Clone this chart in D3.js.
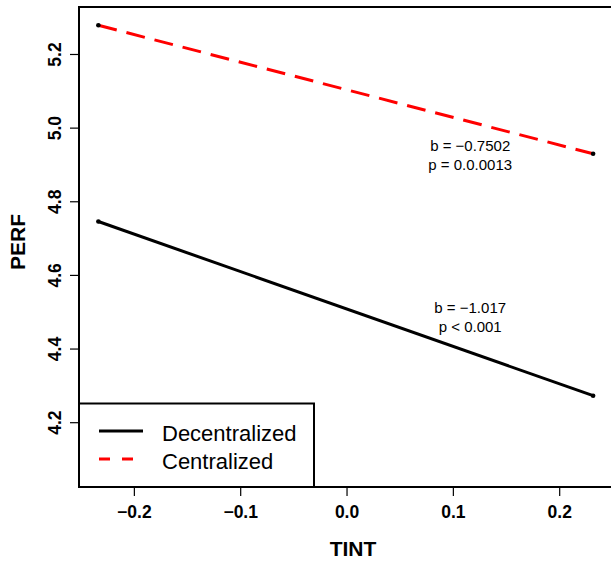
<!DOCTYPE html>
<html>
<head>
<meta charset="utf-8">
<script src="https://cdn.jsdelivr.net/npm/d3@7"></script>
<style>
  html, body { margin: 0; padding: 0; background: #fff; }
  svg { display: block; font-family: "Liberation Sans", Arial, Helvetica, sans-serif; }
</style>
</head>
<body>
<svg id="chart" width="611" height="562"></svg>
<script>
// Simple-slopes data: PERF predicted at low / high TINT for each structure
const tint = [-0.2334, 0.2319];
const decentralized = [4.745, 4.272];
const centralized = [5.278, 4.929];
const seriesNames = ["Decentralized", "Centralized"];
const xTicks = [-0.2, -0.1, 0.0, 0.1, 0.2];
const yTicks = [4.2, 4.4, 4.6, 4.8, 5.0, 5.2];
const notesCentralized = ["b = \u22120.7502", "p = 0.0.0013"];
const notesDecentralized = ["b = \u22121.017", "p < 0.001"];

const svg = d3.select("#chart");

const x = d3.scaleLinear().domain([-0.2516, 0.2506]).range([79, 613]);
const y = d3.scaleLinear().domain([4.024, 5.3276]).range([487, 7]);

const fmt = d => d3.format(".1f")(d).replace("-", "\u2212");

// Plot frame
svg.append("rect")
  .attr("x", x.range()[0]).attr("y", y.range()[1])
  .attr("width", x.range()[1] - x.range()[0])
  .attr("height", y.range()[0] - y.range()[1])
  .attr("fill", "none").attr("stroke", "#000").attr("stroke-width", 2);

// X axis
const xAxis = d3.axisBottom(x).tickValues(xTicks).tickSize(9).tickSizeOuter(0).tickPadding(10).tickFormat(fmt);
const gx = svg.append("g").attr("transform", `translate(0,${y.range()[0]})`).call(xAxis);
gx.select(".domain").remove();
gx.selectAll(".tick line").attr("stroke", "#000").attr("stroke-width", 1.2);
gx.selectAll(".tick text").attr("font-size", 17.5).attr("font-weight", "bold").attr("fill", "#000")
  .attr("font-family", "'Liberation Sans', Arial, sans-serif");

// Y axis (labels turned parallel to the axis)
const yAxis = d3.axisLeft(y).tickValues(yTicks).tickSize(9).tickSizeOuter(0).tickFormat(fmt);
const gy = svg.append("g").attr("transform", `translate(${x.range()[0]},0)`).call(yAxis);
gy.select(".domain").remove();
gy.selectAll(".tick line").attr("stroke", "#000").attr("stroke-width", 1.2);
gy.selectAll(".tick text")
  .attr("font-size", 17.5).attr("font-weight", "bold").attr("fill", "#000")
  .attr("font-family", "'Liberation Sans', Arial, sans-serif")
  .attr("x", null).attr("dy", null)
  .attr("text-anchor", "middle")
  .attr("transform", "translate(-24,0) rotate(-90)")
  .attr("dy", "0.36em");

// Axis titles
svg.append("text")
  .attr("x", 353).attr("y", 556)
  .attr("text-anchor", "middle")
  .attr("font-size", 21).attr("font-weight", "bold")
  .text("TINT");
svg.append("text")
  .attr("transform", "translate(25,242) rotate(-90)")
  .attr("text-anchor", "middle")
  .attr("font-size", 21).attr("font-weight", "bold")
  .text("PERF");

// Lines
const line = d3.line().x(d => x(d[0])).y(d => y(d[1]));
const series = [
  { name: seriesNames[0], values: decentralized, color: "#000", dash: null },
  { name: seriesNames[1], values: centralized, color: "#f00", dash: "19,10" }
];
series.forEach(s => {
  const pts = tint.map((t, i) => [t, s.values[i]]);
  svg.append("path")
    .attr("d", line(pts))
    .attr("fill", "none")
    .attr("stroke", s.color)
    .attr("stroke-width", 3)
    .attr("stroke-dasharray", s.dash);
  svg.selectAll(null).data(pts).enter().append("circle")
    .attr("cx", d => x(d[0])).attr("cy", d => y(d[1]))
    .attr("r", 2.3).attr("fill", "#000");
});

// Slope annotations
function note(lines, xv, yv) {
  lines.forEach((t, i) => {
    svg.append("text")
      .attr("x", x(xv)).attr("y", y(yv) + i * 18.5)
      .attr("text-anchor", "middle")
      .attr("font-size", 15)
      .text(t);
  });
}
note(notesCentralized, 0.1163, 4.9365);
note(notesDecentralized, 0.1163, 4.4955);

// Legend
const lg = svg.append("g");
lg.append("rect")
  .attr("x", 79).attr("y", 403.5).attr("width", 235).attr("height", 83.5)
  .attr("fill", "#fff").attr("stroke", "#000").attr("stroke-width", 2);
series.forEach((s, i) => {
  const yy = 431 + i * 28;
  lg.append("line")
    .attr("x1", 99).attr("x2", 143).attr("y1", yy).attr("y2", yy)
    .attr("stroke", s.color).attr("stroke-width", 3)
    .attr("stroke-dasharray", s.dash ? "11,12" : null);
  lg.append("text")
    .attr("x", 162).attr("y", yy + 10)
    .attr("font-size", 22)
    .text(s.name);
});
</script>
</body>
</html>
